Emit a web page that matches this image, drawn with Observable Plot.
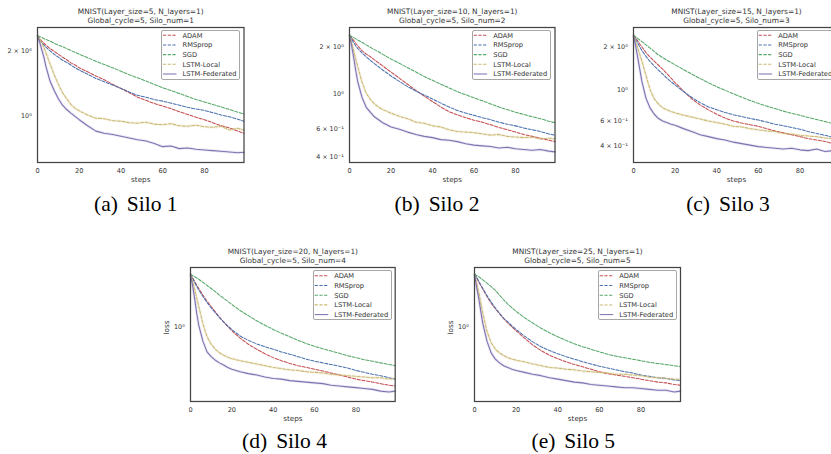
<!DOCTYPE html>
<html>
<head>
<meta charset="utf-8">
<script src="https://cdn.jsdelivr.net/npm/d3@7"></script>
<script src="https://cdn.jsdelivr.net/npm/@observablehq/plot@0.6"></script>
<style>
  html, body { margin: 0; padding: 0; background: #fff; }
  #page { position: relative; width: 831px; height: 454px; overflow: hidden; background: #fff; }
  .panel { position: absolute; }
  .legend-box { position: absolute; box-sizing: border-box; border: 1px solid #a6a6a6; border-radius: 2px; pointer-events: none; }
  .caption { position: absolute; font-family: "Liberation Serif", "Times New Roman", "DejaVu Serif", serif; font-size: 21.5px;
             line-height: 1; color: #000; white-space: nowrap; transform: translateX(-50%); }
  .caption span { margin-left: 9px; }
</style>
</head>
<body>
<div id="page"></div>
<script>
// Training steps at which the loss was sampled
const steps = [0,1,2,3,4,6,8,10,12,14,16,18,20,24,28,32,36,40,44,48,52,56,60,64,68,72,76,80,84,88,92,96,99];
const xTicks = [0, 20, 40, 60, 80];
const methods = ["ADAM", "RMSprop", "SGD", "LSTM-Local", "LSTM-Federated"];
const colors = ["#c44e52", "#4c72b0", "#55a868", "#ccb974", "#8172b2"];

// Silo 1 (Layer_size=5)
const adam1  = [2.35,2.28,2.22,2.17,2.13,2.05,1.99,1.93,1.87,1.82,1.76,1.72,1.67,1.60,1.53,1.47,1.40,1.34,1.28,1.22,1.18,1.14,1.11,1.08,1.045,1.015,0.985,0.96,0.93,0.90,0.88,0.85,0.83];
const rms1   = [2.35,2.25,2.18,2.13,2.08,2.00,1.93,1.87,1.81,1.77,1.72,1.67,1.63,1.56,1.49,1.44,1.39,1.34,1.29,1.245,1.22,1.19,1.17,1.145,1.12,1.095,1.075,1.06,1.035,1.01,0.99,0.965,0.945];
const sgd1   = [2.35,2.33,2.31,2.28,2.26,2.22,2.17,2.13,2.09,2.05,2.01,1.97,1.93,1.86,1.79,1.73,1.67,1.61,1.55,1.50,1.45,1.40,1.35,1.31,1.27,1.23,1.19,1.16,1.13,1.10,1.07,1.04,1.02];
const local1 = [2.35,2.28,2.18,2.08,1.97,1.74,1.55,1.40,1.28,1.20,1.13,1.085,1.055,1.01,0.975,0.97,0.95,0.945,0.93,0.925,0.935,0.915,0.91,0.92,0.90,0.895,0.905,0.89,0.885,0.895,0.86,0.875,0.86];
const fed1   = [2.35,2.20,2.03,1.88,1.70,1.45,1.31,1.20,1.12,1.07,1.03,0.995,0.96,0.90,0.85,0.83,0.82,0.805,0.79,0.775,0.765,0.745,0.72,0.725,0.705,0.71,0.70,0.695,0.69,0.685,0.68,0.675,0.678];

// Silo 2 (Layer_size=10)
const adam2  = [2.38,2.30,2.21,2.12,2.04,1.90,1.81,1.74,1.66,1.59,1.52,1.45,1.39,1.27,1.16,1.06,0.975,0.90,0.83,0.775,0.74,0.71,0.685,0.665,0.64,0.615,0.595,0.575,0.555,0.54,0.525,0.51,0.50];
const rms2   = [2.38,2.26,2.14,2.04,1.96,1.84,1.74,1.65,1.57,1.50,1.43,1.37,1.31,1.21,1.12,1.05,0.99,0.935,0.88,0.83,0.79,0.76,0.735,0.71,0.69,0.665,0.645,0.63,0.61,0.595,0.58,0.56,0.55];
const sgd2   = [2.38,2.34,2.30,2.26,2.22,2.15,2.07,2.00,1.93,1.87,1.80,1.74,1.68,1.58,1.48,1.39,1.30,1.23,1.16,1.10,1.04,0.995,0.95,0.91,0.87,0.83,0.80,0.77,0.745,0.72,0.70,0.675,0.66];
const local2 = [2.38,2.15,1.90,1.68,1.50,1.20,1.02,0.93,0.87,0.83,0.80,0.78,0.76,0.725,0.70,0.665,0.655,0.63,0.62,0.595,0.58,0.575,0.57,0.56,0.55,0.555,0.54,0.535,0.53,0.535,0.52,0.525,0.52];
const fed2   = [2.38,2.05,1.72,1.42,1.20,0.96,0.83,0.77,0.72,0.69,0.66,0.64,0.62,0.60,0.575,0.555,0.54,0.53,0.515,0.51,0.50,0.485,0.475,0.47,0.465,0.455,0.46,0.45,0.445,0.44,0.445,0.435,0.43];

// Silo 3 (Layer_size=15)
const adam3  = [2.43,2.33,2.22,2.11,2.01,1.83,1.70,1.59,1.49,1.40,1.30,1.21,1.12,0.98,0.86,0.78,0.72,0.67,0.63,0.60,0.58,0.565,0.55,0.53,0.51,0.495,0.48,0.465,0.45,0.44,0.43,0.415,0.42];
const rms3   = [2.43,2.28,2.14,2.01,1.90,1.72,1.58,1.47,1.375,1.29,1.21,1.14,1.08,0.97,0.88,0.81,0.755,0.72,0.69,0.665,0.645,0.625,0.61,0.59,0.57,0.555,0.54,0.525,0.505,0.49,0.475,0.46,0.45];
const sgd3   = [2.43,2.37,2.31,2.25,2.19,2.08,1.97,1.86,1.76,1.69,1.62,1.56,1.50,1.39,1.29,1.20,1.12,1.05,0.99,0.935,0.885,0.84,0.80,0.765,0.735,0.705,0.68,0.66,0.635,0.615,0.595,0.575,0.56];
const local3 = [2.43,2.20,1.98,1.78,1.60,1.26,1.00,0.86,0.79,0.745,0.72,0.70,0.685,0.66,0.64,0.62,0.60,0.585,0.57,0.55,0.545,0.53,0.52,0.51,0.505,0.49,0.485,0.475,0.47,0.465,0.455,0.45,0.445];
const fed3   = [2.43,2.05,1.70,1.40,1.15,0.87,0.74,0.67,0.625,0.60,0.585,0.57,0.56,0.53,0.505,0.48,0.465,0.45,0.44,0.425,0.415,0.405,0.395,0.39,0.385,0.38,0.385,0.375,0.37,0.38,0.365,0.37,0.355];

// Silo 4 (Layer_size=20)
const adam4  = [2.42,2.28,2.14,2.01,1.90,1.70,1.53,1.40,1.28,1.17,1.08,1.00,0.93,0.82,0.74,0.68,0.63,0.59,0.56,0.535,0.515,0.50,0.485,0.47,0.455,0.44,0.425,0.41,0.40,0.39,0.38,0.37,0.365];
const rms4   = [2.42,2.25,2.10,1.97,1.85,1.66,1.50,1.37,1.26,1.16,1.08,1.01,0.95,0.85,0.79,0.745,0.71,0.68,0.65,0.625,0.60,0.575,0.555,0.54,0.525,0.51,0.495,0.475,0.46,0.445,0.435,0.42,0.41];
const sgd4   = [2.42,2.37,2.32,2.27,2.22,2.11,2.00,1.90,1.80,1.70,1.61,1.53,1.45,1.31,1.20,1.10,1.02,0.95,0.89,0.84,0.79,0.75,0.715,0.685,0.66,0.635,0.61,0.59,0.57,0.555,0.54,0.525,0.515];
const local4 = [2.42,2.15,1.88,1.62,1.40,1.05,0.84,0.74,0.68,0.64,0.615,0.595,0.58,0.56,0.545,0.53,0.515,0.50,0.49,0.48,0.475,0.465,0.46,0.455,0.445,0.44,0.435,0.43,0.425,0.42,0.42,0.41,0.415];
const fed4   = [2.42,2.00,1.60,1.25,1.02,0.78,0.65,0.60,0.565,0.54,0.52,0.50,0.485,0.465,0.45,0.44,0.425,0.415,0.41,0.40,0.395,0.39,0.385,0.38,0.37,0.365,0.36,0.355,0.35,0.345,0.335,0.33,0.335];

// Silo 5 (Layer_size=25)
const adam5  = [2.42,2.28,2.13,2.00,1.88,1.66,1.48,1.35,1.24,1.14,1.06,0.99,0.93,0.82,0.73,0.665,0.615,0.58,0.55,0.525,0.505,0.485,0.465,0.45,0.44,0.43,0.42,0.41,0.40,0.39,0.385,0.375,0.37];
const rms5   = [2.42,2.30,2.16,2.02,1.90,1.69,1.51,1.37,1.25,1.15,1.08,1.01,0.95,0.85,0.77,0.71,0.665,0.63,0.60,0.575,0.55,0.53,0.51,0.495,0.48,0.465,0.455,0.44,0.43,0.42,0.415,0.405,0.40];
const sgd5   = [2.42,2.37,2.32,2.26,2.20,2.08,1.96,1.84,1.70,1.57,1.46,1.37,1.29,1.16,1.06,0.97,0.90,0.84,0.79,0.745,0.71,0.68,0.65,0.625,0.605,0.59,0.575,0.56,0.545,0.535,0.525,0.515,0.505];
const local5 = [2.42,2.10,1.80,1.50,1.25,0.92,0.76,0.68,0.64,0.61,0.59,0.575,0.565,0.55,0.53,0.515,0.50,0.495,0.485,0.48,0.47,0.465,0.46,0.455,0.445,0.445,0.44,0.435,0.425,0.42,0.415,0.41,0.41];
const fed5   = [2.42,1.95,1.62,1.30,1.05,0.78,0.64,0.575,0.54,0.515,0.50,0.485,0.475,0.46,0.445,0.435,0.42,0.41,0.40,0.39,0.385,0.375,0.37,0.365,0.36,0.355,0.355,0.35,0.345,0.34,0.34,0.33,0.335];

// Titles, captions and y tick labels
const titles1 = ["MNIST(Layer_size=5, N_layers=1)", "MNIST(Layer_size=10, N_layers=1)", "MNIST(Layer_size=15, N_layers=1)",
                 "MNIST(Layer_size=20, N_layers=1)", "MNIST(Layer_size=25, N_layers=1)"];
const titles2 = ["Global_cycle=5, Silo_num=1", "Global_cycle=5, Silo_num=2", "Global_cycle=5, Silo_num=3",
                 "Global_cycle=5, Silo_num=4", "Global_cycle=5, Silo_num=5"];
const captionTags = ["(a)", "(b)", "(c)", "(d)", "(e)"];
const captionTexts = ["Silo 1", "Silo 2", "Silo 3", "Silo 4", "Silo 5"];
const yTicksA = [1, 2];
const yLabelsA = ["10\u2070", "2 \u00d7 10\u2070"];
const yTicksB = [0.4, 0.6, 1, 2];
const yLabelsB = ["4 \u00d7 10\u207b\u00b9", "6 \u00d7 10\u207b\u00b9", "10\u2070", "2 \u00d7 10\u2070"];
const yTicksC = [1];
const yLabelsC = ["10\u2070"];

// Panel layout: frame box on the page, log-scale domain, axes
const panels = [
  {series: [adam1, rms1, sgd1, local1, fed1], left: 37,    top: 27.3,  w: 206.5, h: 135, y: [0.608, 2.567], ticks: yTicksA, labels: yLabelsA, yLabel: null, cap: [135.8, 211.7]},
  {series: [adam2, rms2, sgd2, local2, fed2], left: 349.3, top: 27.3,  w: 205.5, h: 135, y: [0.368, 2.67],  ticks: yTicksB, labels: yLabelsB, yLabel: null, cap: [437, 211.7]},
  {series: [adam3, rms3, sgd3, local3, fed3], left: 633.3, top: 27.3,  w: 206,   h: 135, y: [0.305, 2.758], ticks: yTicksB, labels: yLabelsB, yLabel: null, cap: [728, 211.7]},
  {series: [adam4, rms4, sgd4, local4, fed4], left: 190.3, top: 266.7, w: 204.7, h: 134, y: [0.281, 2.71],  ticks: yTicksC, labels: yLabelsC, yLabel: "loss", cap: [284.5, 449]},
  {series: [adam5, rms5, sgd5, local5, fed5], left: 474.3, top: 266.7, w: 206,   h: 134, y: [0.281, 2.71],  ticks: yTicksC, labels: yLabelsC, yLabel: "loss", cap: [573.3, 449]}
];

const page = document.getElementById("page");
const mL = 46, mR = 10, mT = 30, mB = 26;
const legendW = 79, legendH = 50;

panels.forEach((p, idx) => {
  const rows = [];
  p.series.forEach((vals, k) => vals.forEach((v, i) => rows.push({step: steps[i], loss: v, method: methods[k]})));
  const dashed = rows.filter(d => d.method !== "LSTM-Federated");
  const solid = rows.filter(d => d.method === "LSTM-Federated");
  const banded = rows.filter(d => d.method === "LSTM-Federated" || d.method === "LSTM-Local");

  const marks = [
    Plot.axisX({ticks: xTicks, tickSize: 0, tickPadding: 6.2, fontSize: 6.6, label: null, tickFormat: d => String(d)}),
    Plot.axisY({ticks: p.ticks, tickSize: 0, tickPadding: 5.8, fontSize: 6.4, label: null,
                tickFormat: d => p.labels[p.ticks.indexOf(d)]}),
    Plot.line(banded, {x: "step", y: "loss", z: "method", stroke: "method", strokeWidth: 2.8, strokeOpacity: 0.16}),
    Plot.line(dashed, {x: "step", y: "loss", z: "method", stroke: "method", strokeWidth: 1.05, strokeDasharray: "3.2,1.5"}),
    Plot.line(solid, {x: "step", y: "loss", z: "method", stroke: "method", strokeWidth: 1.1}),
    Plot.frame({stroke: "#444", strokeWidth: 1.25}),
    Plot.text([titles1[idx]], {frameAnchor: "top", dy: -15.8, lineAnchor: "middle", fontSize: 7.4}),
    Plot.text([titles2[idx]], {frameAnchor: "top", dy: -6.8, lineAnchor: "middle", fontSize: 7.4}),
    Plot.text(["steps"], {frameAnchor: "bottom", dy: 17, lineAnchor: "middle", fontSize: 7.2})
  ];
  if (p.yLabel) marks.push(Plot.text([p.yLabel], {frameAnchor: "left", dx: -24, rotate: -90, lineAnchor: "middle", fontSize: 7.2}));

  const W = p.w + mL + mR, H = p.h + mT + mB;
  const offX = p.left - mL, offY = p.top - mT;
  const chart = Plot.plot({
    width: W, height: H,
    marginLeft: mL, marginRight: mR, marginTop: mT, marginBottom: mB,
    style: {fontFamily: "'DejaVu Sans', sans-serif", color: "#333", background: "transparent", maxWidth: "none", overflow: "visible"},
    x: {domain: [0, 99]},
    y: {type: "log", domain: p.y},
    color: {domain: methods, range: colors},
    marks
  });

  // Legend entries in the upper right corner of the axes
  const boxLeft = Math.round(p.left + p.w - 3.5 - legendW);
  const boxTop = Math.round(p.top + 3);
  const bx = boxLeft - offX, by = boxTop - offY;
  const g = d3.select(chart).append("g")
    .attr("font-family", "'DejaVu Sans', sans-serif").attr("font-size", 6.7).attr("text-anchor", "start");
  methods.forEach((m, i) => {
    const yy = by + 5.5 + i * 9.7;
    g.append("line").attr("x1", bx + 2).attr("x2", bx + 15.5).attr("y1", yy).attr("y2", yy)
      .attr("stroke", colors[i]).attr("stroke-width", 1.05)
      .attr("stroke-dasharray", m === "LSTM-Federated" ? null : "3.2,1.5");
    g.append("text").attr("x", bx + 21.5).attr("y", yy).attr("dy", "0.35em")
      .attr("text-anchor", "start").attr("fill", "#333").text(m);
  });

  const div = document.createElement("div");
  div.className = "panel";
  div.style.left = offX + "px";
  div.style.top = offY + "px";
  div.style.width = W + "px";
  div.style.height = H + "px";
  div.appendChild(chart);
  page.appendChild(div);

  // Legend frame
  const box = document.createElement("div");
  box.className = "legend-box";
  box.style.left = boxLeft + "px";
  box.style.top = boxTop + "px";
  box.style.width = legendW + "px";
  box.style.height = legendH + "px";
  page.appendChild(box);

  const cap = document.createElement("div");
  cap.className = "caption";
  cap.style.left = p.cap[0] + "px";
  cap.style.top = (p.cap[1] - 18) + "px";
  cap.appendChild(document.createTextNode(captionTags[idx]));
  const word = document.createElement("span");
  word.textContent = captionTexts[idx];
  cap.appendChild(word);
  page.appendChild(cap);
});
</script>
</body>
</html>
